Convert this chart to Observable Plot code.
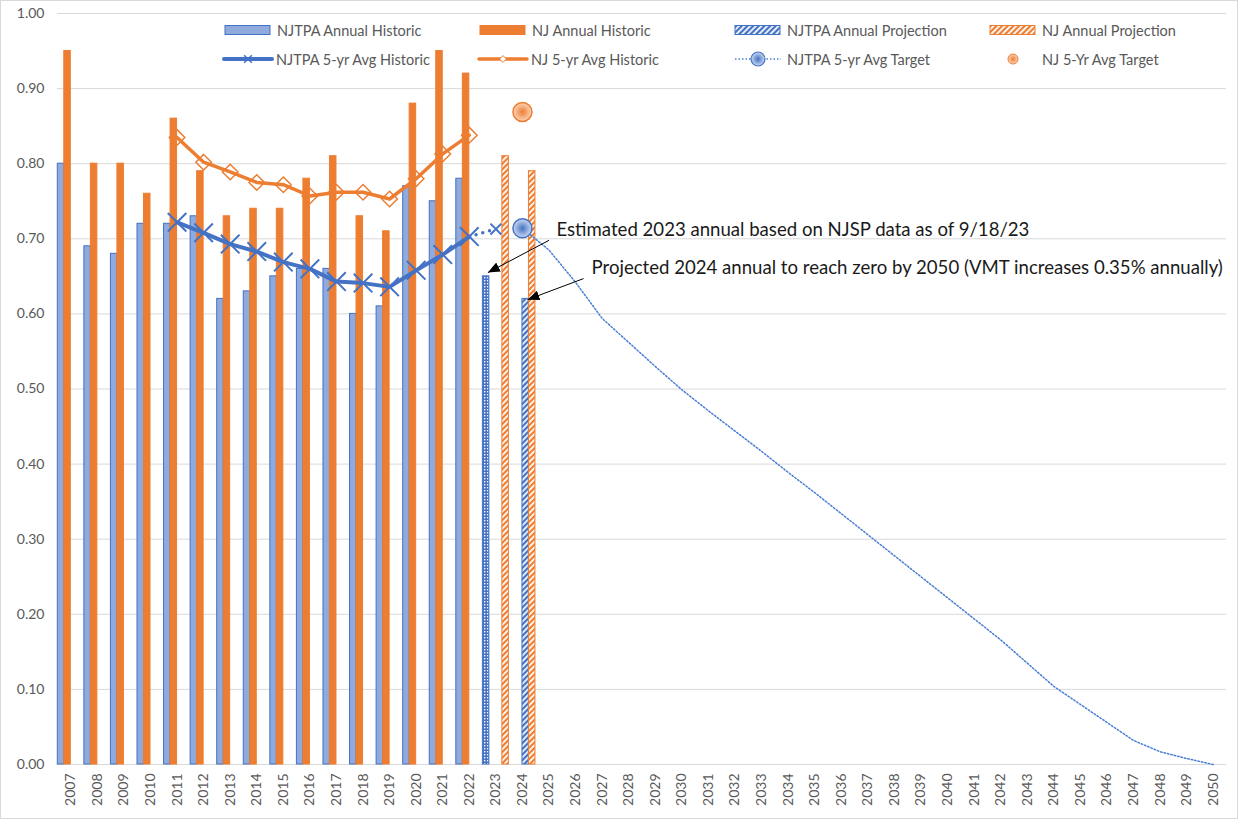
<!DOCTYPE html>
<html>
<head>
<meta charset="utf-8">
<script src="https://cdn.jsdelivr.net/npm/d3@7"></script>
<script src="https://cdn.jsdelivr.net/npm/@observablehq/plot@0.6"></script>
<style>
  body { margin: 0; background: #fff; font-family: Lato, "Open Sans", sans-serif; }
  #wrap { position: relative; width: 1238px; height: 819px; overflow: hidden; background: #fff; }
  #legend { position: absolute; left: 0; top: 0; pointer-events: none; }
  #border { position: absolute; left: 0; top: 0; width: 1238px; height: 819px; box-sizing: border-box; border: 1px solid #d9d9d9; pointer-events: none; }
</style>
</head>
<body>
<svg width="0" height="0" style="position:absolute">
  <defs>
    <pattern id="hatchBlue" width="4" height="4" patternUnits="userSpaceOnUse" patternTransform="rotate(45)">
      <rect width="4" height="4" fill="#4472C4"></rect><rect width="1.7" height="4" fill="#ffffff"></rect>
    </pattern>
    <pattern id="hatchOrange" width="4" height="4" patternUnits="userSpaceOnUse" patternTransform="rotate(45)">
      <rect width="4" height="4" fill="#ED7D31"></rect><rect width="1.8" height="4" fill="#ffffff"></rect>
    </pattern>
    <pattern id="dotBlue" width="3" height="3" patternUnits="userSpaceOnUse">
      <rect width="3" height="3" fill="#4472C4"></rect><rect x="1" y="1" width="1.4" height="1.4" fill="#ffffff"></rect>
    </pattern>
    <radialGradient id="gradBlue">
      <stop offset="0" stop-color="#4472C4"></stop><stop offset="1" stop-color="#cdd9f0"></stop>
    </radialGradient>
    <radialGradient id="gradOrange">
      <stop offset="0" stop-color="#ED7D31"></stop><stop offset="1" stop-color="#fbd5bb"></stop>
    </radialGradient>
  </defs>
</svg>
<div id="wrap">
  <div id="chart"></div>
  <svg id="legend" width="1238" height="80"></svg>
  <div id="border"></div>
</div>
<script>
// ---------------- data ----------------
const years = [2007,2008,2009,2010,2011,2012,2013,2014,2015,2016,2017,2018,2019,2020,2021,2022,
  2023,2024,2025,2026,2027,2028,2029,2030,2031,2032,2033,2034,2035,2036,2037,2038,2039,2040,
  2041,2042,2043,2044,2045,2046,2047,2048,2049,2050];

const histYears = [2007,2008,2009,2010,2011,2012,2013,2014,2015,2016,2017,2018,2019,2020,2021,2022];
const njtpaAnnual = [0.80,0.69,0.68,0.72,0.72,0.73,0.62,0.63,0.65,0.66,0.66,0.60,0.61,0.77,0.75,0.78];
const njAnnual    = [0.95,0.80,0.80,0.76,0.86,0.79,0.73,0.74,0.74,0.78,0.81,0.73,0.71,0.88,0.95,0.92];

const njtpaEstYears = [2023];
const njtpaEst = [0.65];
const njtpaProjYears = [2024];
const njtpaProj = [0.62];
const njProjYears = [2023, 2024];
const njProj = [0.81, 0.79];

const avgYears = [2011,2012,2013,2014,2015,2016,2017,2018,2019,2020,2021,2022];
const njtpaAvg = [0.722,0.708,0.693,0.683,0.669,0.660,0.643,0.641,0.636,0.658,0.679,0.703];
const njAvg    = [0.835,0.802,0.789,0.775,0.772,0.757,0.762,0.762,0.753,0.780,0.813,0.838];

const njtpaAvgExtYears = [2022, 2023];
const njtpaAvgExt = [0.703, 0.713];

const targetYears = [2024,2025,2026,2027,2028,2029,2030,2031,2032,2033,2034,2035,2036,2037,
  2038,2039,2040,2041,2042,2043,2044,2045,2046,2047,2048,2049,2050];
const njtpaTarget = [0.714,0.685,0.642,0.594,0.562,0.530,0.499,0.471,0.444,0.417,0.389,0.362,0.334,
  0.306,0.278,0.250,0.222,0.194,0.166,0.135,0.104,0.080,0.056,0.032,0.017,0.008,0.000];
const njTargetYears = [2024];
const njTarget = [0.869];

const yTicks = [0,0.1,0.2,0.3,0.4,0.5,0.6,0.7,0.8,0.9,1.0];

const annotations = [
  {x1: 2025, y1: 0.698, x2: 2022.7, y2: 0.655, tx: 2025.28, ty: 0.711,
   label: "Estimated 2023 annual based on NJSP data as of 9/18/23"},
  {x1: 2026.3, y1: 0.647, x2: 2024.19, y2: 0.619, tx: 2026.6, ty: 0.661,
   label: "Projected 2024 annual to reach zero by 2050 (VMT increases 0.35% annually)"}
];

const legendItems = [
  {label: "NJTPA Annual Historic", kind: "rect", fill: "#8FAADC", stroke: "#4472C4", x: 225, row: 0},
  {label: "NJ Annual Historic", kind: "rect", fill: "#ED7D31", stroke: "#ED7D31", x: 480, row: 0},
  {label: "NJTPA Annual Projection", kind: "rect", fill: "url(#hatchBlue)", stroke: "#4472C4", x: 735, row: 0},
  {label: "NJ Annual Projection", kind: "rect", fill: "url(#hatchOrange)", stroke: "#ED7D31", x: 990, row: 0},
  {label: "NJTPA 5-yr Avg Historic", kind: "lineX", stroke: "#4472C4", x: 224, row: 1},
  {label: "NJ 5-yr Avg Historic", kind: "lineDiamond", stroke: "#ED7D31", x: 479, row: 1},
  {label: "NJTPA 5-yr Avg Target", kind: "dotLine", stroke: "#4472C4", x: 735, row: 1},
  {label: "NJ 5-Yr Avg Target", kind: "circle", stroke: "#ED7D31", x: 990, row: 1}
];

// ---------------- layout ----------------
const W = 1238, H = 819, mL = 57, mR = 12, mT = 13, mB = 55;
const bw = (W - mL - mR) / years.length;
const slotW = bw / 4.09, gap = (bw - 4 * slotW) / 2;
const slot = i => ({insetLeft: gap + i * slotW, insetRight: bw - gap - (i + 1) * slotW});
const zip = (xs, ys) => xs.map((x, i) => ({x, y: ys[i]}));
const barOpts = (i, fill, stroke) => ({
  x1: d => d.x - 0.5, x2: d => d.x + 0.5, y1: d => 0, y2: "y",
  fill, stroke, strokeWidth: 1, ...slot(i)
});

const BLUE = "#4472C4", ORANGE = "#ED7D31";

const chart = Plot.plot({
  width: W, height: H,
  marginLeft: mL, marginRight: mR, marginTop: mT, marginBottom: mB,
  style: {fontFamily: "Lato, 'Open Sans', sans-serif", fontSize: "14px", color: "#595959", background: "white"},
  x: {type: "linear", domain: [years[0] - 0.5, years[years.length - 1] + 0.5]},
  y: {domain: [0, 1]},
  marks: [
    Plot.gridY(yTicks, {stroke: "#d9d9d9", strokeOpacity: 1, strokeWidth: 1}),
    Plot.axisY(yTicks, {tickFormat: d3.format(".2f"), tickSize: 0, tickPadding: 13, label: null, fontSize: 14}),
    Plot.axisX(years, {tickFormat: d => String(d), tickRotate: -90, tickSize: 0, tickPadding: 9, label: null, fontSize: 14}),
    Plot.rect(zip(histYears, njtpaAnnual), barOpts(0, "#8FAADC", BLUE)),
    Plot.rect(zip(njtpaEstYears, njtpaEst), barOpts(0, "url(#dotBlue)", BLUE)),
    Plot.rect(zip(histYears, njAnnual), barOpts(1, ORANGE, ORANGE)),
    Plot.rect(zip(njtpaProjYears, njtpaProj), barOpts(2, "url(#hatchBlue)", BLUE)),
    Plot.rect(zip(njProjYears, njProj), barOpts(3, "url(#hatchOrange)", ORANGE)),
    // target trajectory
    Plot.line(zip(targetYears, njtpaTarget), {x: "x", y: "y", stroke: "#4a7fd4", strokeWidth: 1.5, strokeDasharray: "1.5 2"}),
    // NJ 5-yr avg
    Plot.line(zip(avgYears, njAvg), {x: "x", y: "y", stroke: ORANGE, strokeWidth: 3.5}),
    Plot.dot(zip(avgYears, njAvg), {x: "x", y: "y", symbol: "diamond2", r: 7, stroke: ORANGE, fill: "none", strokeWidth: 1.5}),
    // NJTPA 5-yr avg
    Plot.line(zip(avgYears, njtpaAvg), {x: "x", y: "y", stroke: BLUE, strokeWidth: 4}),
    Plot.dot(zip(avgYears, njtpaAvg), {x: "x", y: "y", symbol: "times", r: 8.5, stroke: BLUE, strokeWidth: 2}),
    Plot.line(zip(njtpaAvgExtYears, njtpaAvgExt), {x: "x", y: "y", stroke: BLUE, strokeWidth: 3.5, strokeDasharray: "0 7", strokeLinecap: "round"}),
    Plot.dot(zip(njtpaAvgExtYears, njtpaAvgExt).slice(1), {x: "x", y: "y", symbol: "times", r: 5, stroke: BLUE, strokeWidth: 2}),
    // targets
    Plot.dot(zip(targetYears, njtpaTarget).slice(0, 1), {x: "x", y: "y", r: 9.5, fill: "url(#gradBlue)", stroke: BLUE, strokeWidth: 1.5}),
    Plot.dot(zip(njTargetYears, njTarget), {x: "x", y: "y", r: 9.5, fill: "url(#gradOrange)", stroke: ORANGE, strokeWidth: 1.5}),
    // annotations
    Plot.link(annotations, {x1: "x1", y1: "y1", x2: "x2", y2: "y2", stroke: "#000", strokeWidth: 1}),
    Plot.text(annotations, {x: "tx", y: "ty", text: "label", textAnchor: "start", fill: "#1a1a1a", fontSize: 18.6})
  ]
});
document.getElementById("chart").appendChild(chart);
// arrowhead marker defined inside the chart's own svg
const defs = d3.select(chart).insert("defs", ":first-child");
defs.append("marker").attr("id", "arrowhead").attr("viewBox", "0 0 12 10")
  .attr("refX", 12).attr("refY", 5).attr("markerWidth", 12).attr("markerHeight", 10)
  .attr("orient", "auto").attr("markerUnits", "userSpaceOnUse")
  .append("path").attr("d", "M0,0L12,5L0,10z").attr("fill", "#000");
d3.select(chart).selectAll('g[aria-label="link"] path, g[aria-label="link"] line')
  .attr("marker-end", "url(#arrowhead)");

// ---------------- legend ----------------
const lg = d3.select("#legend");
const rowY = [30, 59];
for (const it of legendItems) {
  const y = rowY[it.row];
  const g = lg.append("g");
  if (it.kind === "rect") {
    g.append("rect").attr("x", it.x).attr("y", y - 4.5).attr("width", 45).attr("height", 9)
      .attr("fill", it.fill).attr("stroke", it.stroke).attr("stroke-width", 1);
  } else if (it.kind === "lineX") {
    g.append("line").attr("x1", it.x).attr("x2", it.x + 48).attr("y1", y).attr("y2", y)
      .attr("stroke", it.stroke).attr("stroke-width", 4).attr("stroke-linecap", "round");
    g.append("path").attr("d", d3.symbol(d3.symbolTimes, 40)()).attr("transform", `translate(${it.x + 24},${y})`)
      .attr("stroke", it.stroke).attr("stroke-width", 1.5).attr("fill", "none");
  } else if (it.kind === "lineDiamond") {
    g.append("line").attr("x1", it.x).attr("x2", it.x + 48).attr("y1", y).attr("y2", y)
      .attr("stroke", it.stroke).attr("stroke-width", 3.5).attr("stroke-linecap", "round");
    g.append("path").attr("d", d3.symbol(d3.symbolDiamond2, 30)()).attr("transform", `translate(${it.x + 24},${y})`)
      .attr("stroke", it.stroke).attr("stroke-width", 1).attr("fill", "#fff");
  } else if (it.kind === "dotLine") {
    g.append("line").attr("x1", it.x).attr("x2", it.x + 46).attr("y1", y).attr("y2", y)
      .attr("stroke", "#4a7fd4").attr("stroke-width", 1.5).attr("stroke-dasharray", "1.5 2");
    g.append("circle").attr("cx", it.x + 23).attr("cy", y).attr("r", 7)
      .attr("fill", "url(#gradBlue)").attr("stroke", it.stroke).attr("stroke-width", 1.2);
  } else if (it.kind === "circle") {
    g.append("circle").attr("cx", it.x + 23).attr("cy", y).attr("r", 5)
      .attr("fill", "url(#gradOrange)").attr("stroke", it.stroke).attr("stroke-width", 1);
  }
  g.append("text").attr("x", it.x + 52).attr("y", y).attr("dominant-baseline", "central")
    .attr("fill", "#595959").attr("font-size", 14.5).attr("font-family", "Lato, 'Open Sans', sans-serif")
    .text(it.label);
}
</script>
</body>
</html>
